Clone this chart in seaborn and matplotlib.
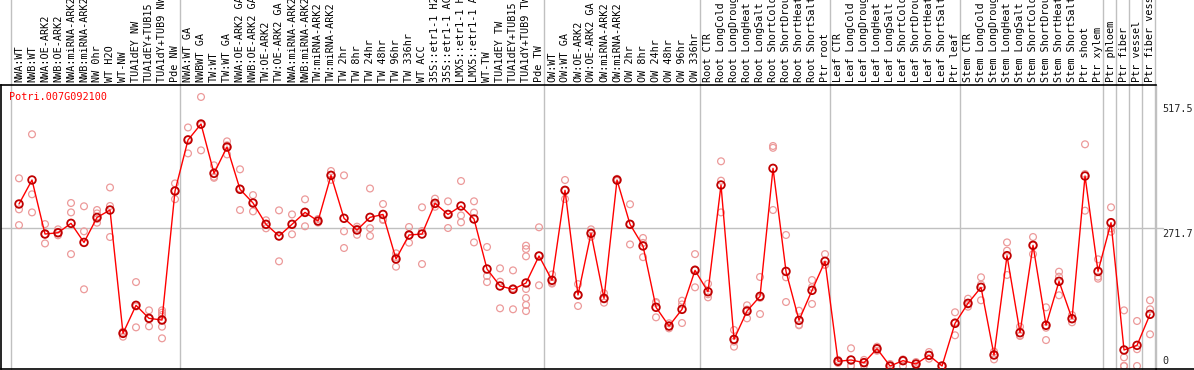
import numpy as np
import pandas as pd
import matplotlib
matplotlib.use("Agg")
import matplotlib.pyplot as plt
import matplotlib.transforms as mtransforms
import seaborn as sns

# sample labels, in plotting order
labels = [
    "NWA:WT", "NWB:WT", "NWA:OE-ARK2", "NWB:OE-ARK2", "NWA:miRNA-ARK2", "NWB:miRNA-ARK2",
    "NW 0hr", "WT H2O", "WT-NW", "TUA1dEY NW", "TUA1dEY+TUB15", "TUA1dY+TUB9 NW", "Pde NW",
    "NWA:WT GA", "NWBWT GA", "TW:WT", "TW:WT GA", "NWA:OE-ARK2 GA", "NWB:OE-ARK2 GA",
    "TW:OE-ARK2", "TW:OE-ARK2 GA", "NWA:miRNA-ARK2", "NWB:miRNA-ARK2", "TW:miRNA-ARK2",
    "TW:miRNA-ARK2", "TW 2hr", "TW 8hr", "TW 24hr", "TW 48hr", "TW 96hr", "TW 336hr",
    "WT ACC", "35S::etr1-1 H2O", "35S::etr1-1 ACC", "LMX5::etr1-1 H2O", "LMX5::etr1-1 ACC",
    "WT-TW", "TUA1dEY TW", "TUA1dEY+TUB15 TW", "TUA1dY+TUB9 TW", "Pde TW",
    "OW:WT", "OW:WT GA", "OW:OE-ARK2", "OW:OE-ARK2 GA", "OW:miRNA-ARK2", "OW:miRNA-ARK2",
    "OW 2hr", "OW 8hr", "OW 24hr", "OW 48hr", "OW 96hr", "OW 336hr",
    "Root CTR", "Root LongCold", "Root LongDrought", "Root LongHeat", "Root LongSalt",
    "Root ShortCold", "Root ShortDrought", "Root ShortHeat", "Root ShortSalt", "Ptr root",
    "Leaf CTR", "Leaf LongCold", "Leaf LongDrought", "Leaf LongHeat", "Leaf LongSalt",
    "Leaf ShortCold", "Leaf ShortDrought", "Leaf ShortHeat", "Leaf ShortSalt", "Ptr leaf",
    "Stem CTR", "Stem LongCold", "Stem LongDrought", "Stem LongHeat", "Stem LongSalt",
    "Stem ShortCold", "Stem ShortDrought", "Stem ShortHeat", "Stem ShortSalt",
    "Ptr shoot", "Ptr xylem", "Ptr phloem", "Ptr fiber", "Ptr vessel", "Ptr fiber vessel",
]

# mean expression per sample
means = [
    318.5, 365.7, 259.5, 262, 280.5, 243, 292, 306.7, 64.2, 119.3, 93.7, 90.4, 344,
    444.4, 475.8, 378.8, 430.6, 347.4, 320.5, 278.6, 255.6, 278.6, 302, 285, 374.8,
    290.4, 267.4, 292.3, 298, 210.4, 257.6, 259.5, 319.9, 298, 314.6, 289, 190.7,
    157.3, 150.8, 163.2, 216.3,
    168.5, 345.4, 139.6, 260.9, 133, 365.7, 278.6, 236, 115.4, 78.6, 111.4, 188,
    146, 355.9, 52.4, 108, 137, 388.6, 186, 89.8, 148.8, 205.8,
    9.2, 11.8, 6.6, 34, 0, 10.5, 4, 20.9, 0, 83.9,
    123.2, 154.7, 21.6, 216.9, 65.5, 237.3, 80, 166.5, 93, 373.6, 186, 281.8,
    31.5, 40.6, 101.6,
]

# individual replicates per sample
replicates = [
    [369, 308, 277], [455.6, 337.6, 302], [279, 259, 241], [268.7, 262, 257],
    [320.5, 302, 220], [314, 264.8, 150.8], [306.7, 300, 289, 281.8], [351, 314.6, 253.6],
    [67.5, 64, 57.6], [165, 117, 76], [109.4, 93.7, 78], [109.4, 104.9, 100.3, 90, 77.3, 54.4],
    [359, 345, 328],
    [469, 446, 418], [529, 474, 424], [394.6, 372, 370], [441.7, 434, 416],
    [386.7, 349, 306.7], [336, 321, 304], [286.5, 278.6, 270.7], [306, 255, 205.8],
    [298, 279, 259], [327.7, 303.6, 274.7], [289, 285, 282], [383.4, 376, 366],
    [374.8, 264.8, 232], [274, 270, 258], [349, 271, 255.6], [318.5, 288.4, 287],
    [221.5, 214, 195.3], [273.3, 257, 242.5], [312, 265.4, 200.5], [329, 318, 313],
    [323.8, 299, 271.3], [363.7, 296, 282.5], [323.8, 301.6, 243], [234, 177, 165],
    [192, 165.8, 113.4], [188, 153, 111.5], [236.6, 230, 215.6, 151.4, 133.7, 120, 108],
    [272.7, 217, 158.7],
    [180, 163.8, 162], [365.7, 345, 328.4], [161, 140, 118], [268.7, 261, 254],
    [143, 131, 124.5], [368, 365, 364], [318, 279, 239], [251.7, 242, 214],
    [125.8, 124, 95.7], [84, 78, 74], [128.4, 121, 84.5], [220, 190, 154.7],
    [161.8, 141, 135], [402.5, 364.4, 302], [70.8, 48, 38], [119.3, 111, 93.7],
    [175, 134, 102.2], [432.6, 429, 306.7], [257.6, 174.4, 125.8], [108.7, 81, 80],
    [169, 155, 122], [220, 199, 198.6],
    [12, 9, 6], [34.8, 0.6, 0], [12, 7, 1], [38, 34, 30], [4, 0, 0], [13, 10, 0],
    [7.9, 4, 0], [27.5, 20.9, 14.4], [0, 0, 0], [105.6, 86, 60.4],
    [132.3, 121, 116.6], [174.4, 160, 129.2], [28.2, 21.6, 13], [243, 226.7, 179],
    [77.3, 60, 59], [253.6, 237.3, 220], [115.4, 75.3, 51], [185.4, 175.6, 139],
    [100.3, 93, 85.9], [435.9, 377.5, 305.4], [209.8, 175.6, 171.7], [312, 270.7, 264],
    [109.4, 17, 0, 0], [88.5, 33, 0], [129.2, 111.5, 62.3],
]

# last sample index of each block (gray separators)
group_ends = [-1, 12, 40, 52, 62, 72, 83, 84, 85, 86, 87]
ytick_vals = [517.5, 271.7, 0]
ytick_text = ["517.5", "271.7", "0"]
gene = "Potri.007G092100"

sns.set_style("white")
plt.rcParams["font.family"] = ["DejaVu Sans Mono", "DejaVu Sans"]

idx = np.arange(len(labels))
mean_df = pd.DataFrame({"x": idx, "y": means})
rep_df = pd.DataFrame(
    [(i, v) for i, vals in enumerate(replicates) for v in vals], columns=["x", "y"]
)

W, H = 1194, 370
fig = plt.figure(figsize=(W / 100, H / 100), dpi=100)
ax = fig.add_axes([1 / W, 1 / H, 1155 / W, 284 / H])
ax.set_xlim(-1.385, 87.46)
ax.set_ylim(-5.9, 552.5)

gray = "#c0c0c0"
for g in group_ends:
    ax.axvline(g + 0.42, ymin=0, ymax=1.32, color=gray, lw=1, clip_on=False, zorder=1)
ax.axhline(271.7, xmin=0, xmax=1.006, color=gray, lw=1, clip_on=False, zorder=1)

sns.scatterplot(data=rep_df, x="x", y="y", ax=ax, marker="o", s=24,
                facecolors="none", edgecolor="#ec9a9a", linewidth=0.9, zorder=2)
sns.lineplot(data=mean_df, x="x", y="y", ax=ax, color="red", lw=1, zorder=3)
sns.scatterplot(data=mean_df, x="x", y="y", ax=ax, marker="o", s=30,
                facecolors="none", edgecolor="#c00000", linewidth=1.3, zorder=4)

ax.set_xlabel("")
ax.set_ylabel("")
ax.set_xticks([])
ax.set_yticks([])
for side in ["left", "bottom", "top"]:
    ax.spines[side].set_color("black")
    ax.spines[side].set_linewidth(1.2)
ax.spines["right"].set_color(gray)
ax.spines["right"].set_linewidth(1)
fig.lines.append(plt.Line2D([1156 / W, 1], [1 / H, 1 / H], color="black", lw=1.2,
                            transform=fig.transFigure))

# rotated sample labels in the header strip
trans = mtransforms.blended_transform_factory(ax.transData, ax.transAxes)
for i, lab in enumerate(labels):
    ax.text(i, 1 + 3 / 284, lab, transform=trans, rotation=90, ha="center",
            va="bottom", fontsize=7.3, color="black", clip_on=False)

ax.text(9 / W, 1 - 97 / H, gene, transform=fig.transFigure, color="red",
        fontsize=7.3, ha="left", va="center")

for v, t in zip(ytick_vals, ytick_text):
    py = 366 - v * 0.5086
    if v == 0:
        fig.text(1162 / W, 1 - 366 / H, t, fontsize=7.3, ha="left", va="bottom")
    else:
        fig.text(1162 / W, 1 - (py + 1) / H, t, fontsize=7.3, ha="left", va="top")

fig.savefig("out.png", dpi=100)
